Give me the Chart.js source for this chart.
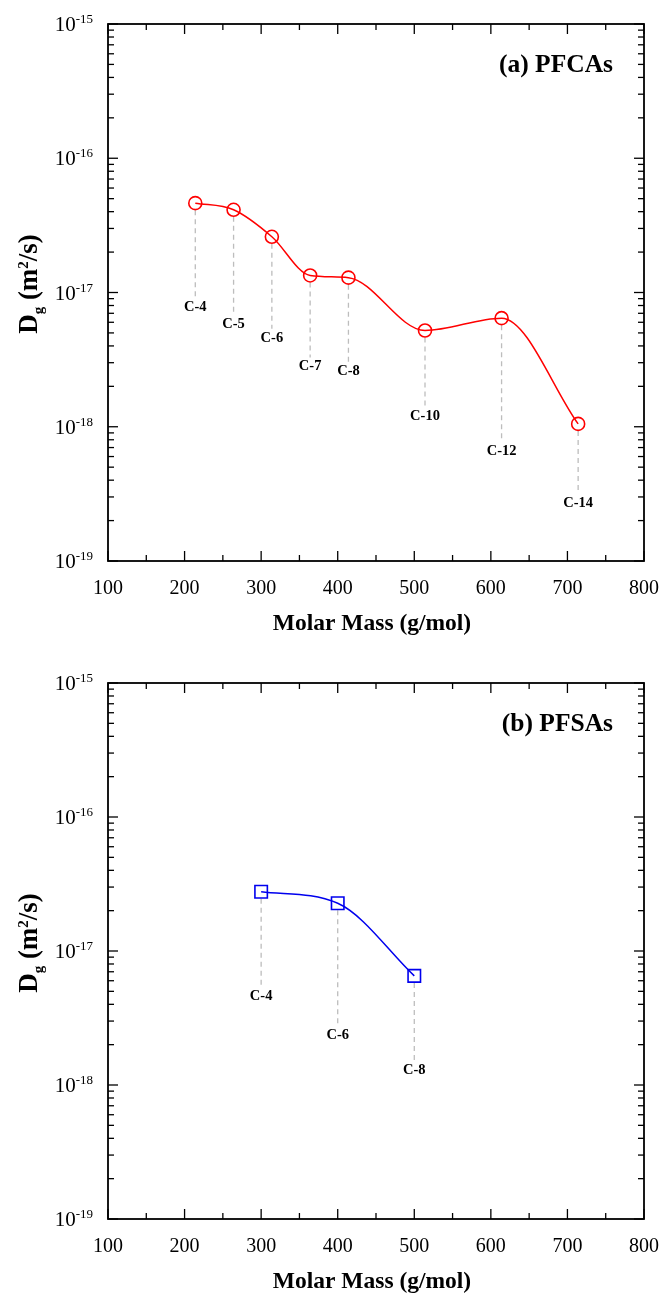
<!DOCTYPE html>
<html>
<head>
<meta charset="utf-8">
<script src="https://cdn.jsdelivr.net/npm/chart.js@4.4.0/dist/chart.umd.min.js"></script>
<style>
  html, body { margin: 0; padding: 0; background: #fff; }
  canvas { display: block; }
</style>
</head>
<body>
<canvas id="chartPfca" width="662" height="646"></canvas>
<canvas id="chartPfsa" width="662" height="647"></canvas>
<script>
/* axis ticks */
var xTickValues = [100, 200, 300, 400, 500, 600, 700, 800];
var yDecadeExps = [-19, -18, -17, -16, -15];

/* (a) PFCAs */
var pfcaNames = ['C-4', 'C-5', 'C-6', 'C-7', 'C-8', 'C-10', 'C-12', 'C-14'];
var pfcaMass = [214, 264, 314, 364, 414, 514, 614, 714];
var pfcaDg = [4.63e-17, 4.13e-17, 2.60e-17, 1.34e-17, 1.29e-17, 5.21e-18, 6.44e-18, 1.05e-18];

/* (b) PFSAs */
var pfsaNames = ['C-4', 'C-6', 'C-8'];
var pfsaMass = [300, 400, 500];
var pfsaDg = [2.77e-17, 2.27e-17, 6.52e-18];

var SERIF = "'Liberation Serif', 'Times New Roman', serif";

function line(ctx, x1, y1, x2, y2) {
  ctx.beginPath();
  ctx.moveTo(x1, y1);
  ctx.lineTo(x2, y2);
  ctx.stroke();
}

/* draws a run of text pieces with sub/superscripts, centred on 0 */
function richText(ctx, parts) {
  var total = 0;
  parts.forEach(function(p) {
    ctx.font = p.font;
    p.w = ctx.measureText(p.t).width;
    total += p.w;
  });
  var x = -total / 2;
  parts.forEach(function(p) {
    ctx.font = p.font;
    ctx.fillText(p.t, x, p.dy || 0);
    x += p.w;
  });
}

var axesFrame = {
  id: 'axesFrame',
  beforeDatasetsDraw: function(chart, args, opts) {
    var ctx = chart.ctx;
    var meta = chart.getDatasetMeta(0);
    ctx.save();
    ctx.strokeStyle = '#bdbdbd';
    ctx.lineWidth = 1.3;
    ctx.setLineDash([5, 4]);
    meta.data.forEach(function(pt, i) {
      line(ctx, pt.x, pt.y + 7, pt.x, pt.y + opts.drops[i] - 9);
    });
    ctx.restore();
  },
  afterDraw: function(chart, args, opts) {
    var ctx = chart.ctx, a = chart.chartArea;
    var xs = chart.scales.x, ys = chart.scales.y;
    var meta = chart.getDatasetMeta(0);
    ctx.save();
    ctx.fillStyle = '#000';
    ctx.strokeStyle = '#000';

    /* compound labels under each point */
    ctx.font = 'bold 14.5px ' + SERIF;
    ctx.textAlign = 'center';
    ctx.textBaseline = 'middle';
    meta.data.forEach(function(pt, i) {
      ctx.fillText(opts.names[i], pt.x, pt.y + opts.drops[i]);
    });

    /* frame */
    ctx.lineWidth = 1.8;
    ctx.strokeRect(a.left, a.top, a.right - a.left, a.bottom - a.top);

    /* x ticks, inward on bottom and top */
    ctx.lineWidth = 1.3;
    xTickValues.forEach(function(v, i) {
      var px = xs.getPixelForValue(v);
      line(ctx, px, a.bottom, px, a.bottom - 10);
      line(ctx, px, a.top, px, a.top + 10);
      if (i < xTickValues.length - 1) {
        var mx = xs.getPixelForValue((v + xTickValues[i + 1]) / 2);
        line(ctx, mx, a.bottom, mx, a.bottom - 6);
        line(ctx, mx, a.top, mx, a.top + 6);
      }
    });

    /* y ticks, inward on left and right */
    yDecadeExps.forEach(function(e, i) {
      var py = ys.getPixelForValue(Math.pow(10, e));
      line(ctx, a.left, py, a.left + 10, py);
      line(ctx, a.right, py, a.right - 10, py);
      if (i < yDecadeExps.length - 1) {
        for (var m = 2; m <= 9; m++) {
          var my = ys.getPixelForValue(m * Math.pow(10, e));
          line(ctx, a.left, my, a.left + 6, my);
          line(ctx, a.right, my, a.right - 6, my);
        }
      }
    });

    /* x tick labels */
    ctx.font = '20px ' + SERIF;
    ctx.textAlign = 'center';
    ctx.textBaseline = 'alphabetic';
    xTickValues.forEach(function(v) {
      ctx.fillText(String(v), xs.getPixelForValue(v), a.bottom + 33);
    });

    /* y tick labels: 10 with superscript exponent */
    ctx.textAlign = 'right';
    yDecadeExps.forEach(function(e) {
      var py = ys.getPixelForValue(Math.pow(10, e));
      var right = a.left - 15;
      ctx.font = '13px ' + SERIF;
      var ew = ctx.measureText(String(e)).width;
      ctx.fillText(String(e), right, py - 1);
      ctx.font = '21px ' + SERIF;
      ctx.fillText('10', right - ew, py + 7);
    });

    /* x title */
    ctx.font = 'bold 23.5px ' + SERIF;
    ctx.textAlign = 'center';
    ctx.fillText('Molar Mass (g/mol)', (a.left + a.right) / 2 - 4, a.bottom + 69);

    /* y title */
    ctx.save();
    ctx.translate(37, a.top + 260);
    ctx.rotate(-Math.PI / 2);
    ctx.textAlign = 'left';
    richText(ctx, [
      { t: 'D', font: 'bold 27px ' + SERIF },
      { t: 'g', font: 'bold 15px ' + SERIF, dy: 6 },
      { t: ' (m', font: 'bold 27px ' + SERIF },
      { t: '2', font: 'bold 15px ' + SERIF, dy: -9 },
      { t: '/s)', font: 'bold 27px ' + SERIF }
    ]);
    ctx.restore();

    /* panel label */
    ctx.font = 'bold 25.5px ' + SERIF;
    ctx.textAlign = 'right';
    ctx.textBaseline = 'middle';
    ctx.fillText(opts.panel, a.right - 31, a.top + 41);

    ctx.restore();
  }
};

function makeChart(id, mass, dg, color, pointStyle, radius, pad, panel, names, drops) {
  return new Chart(document.getElementById(id), {
    type: 'line',
    data: {
      datasets: [{
        data: mass.map(function(m, i) { return { x: m, y: dg[i] }; }),
        borderColor: color,
        borderWidth: 1.5,
        cubicInterpolationMode: 'monotone',
        pointStyle: pointStyle,
        pointRadius: radius,
        pointBorderWidth: 1.6,
        pointBorderColor: color,
        pointBackgroundColor: 'rgba(0,0,0,0)'
      }]
    },
    options: {
      responsive: false,
      animation: false,
      events: [],
      layout: { padding: pad },
      scales: {
        x: { type: 'linear', min: 100, max: 800, display: false },
        y: { type: 'logarithmic', min: 1e-19, max: 1e-15, display: false }
      },
      plugins: {
        legend: { display: false },
        tooltip: { enabled: false },
        axesFrame: { panel: panel, names: names, drops: drops }
      }
    },
    plugins: [axesFrame]
  });
}

makeChart('chartPfca', pfcaMass, pfcaDg, '#ff0000', 'circle', 6.5,
  { left: 108, right: 18, top: 24, bottom: 85 },
  '(a) PFCAs', pfcaNames, [104, 114, 101, 91, 94, 86, 133, 79]);

makeChart('chartPfsa', pfsaMass, pfsaDg, '#0000ee', 'rect', 8.8,
  { left: 108, right: 18, top: 37, bottom: 74 },
  '(b) PFSAs', pfsaNames, [105, 132, 94]);
</script>
</body>
</html>
